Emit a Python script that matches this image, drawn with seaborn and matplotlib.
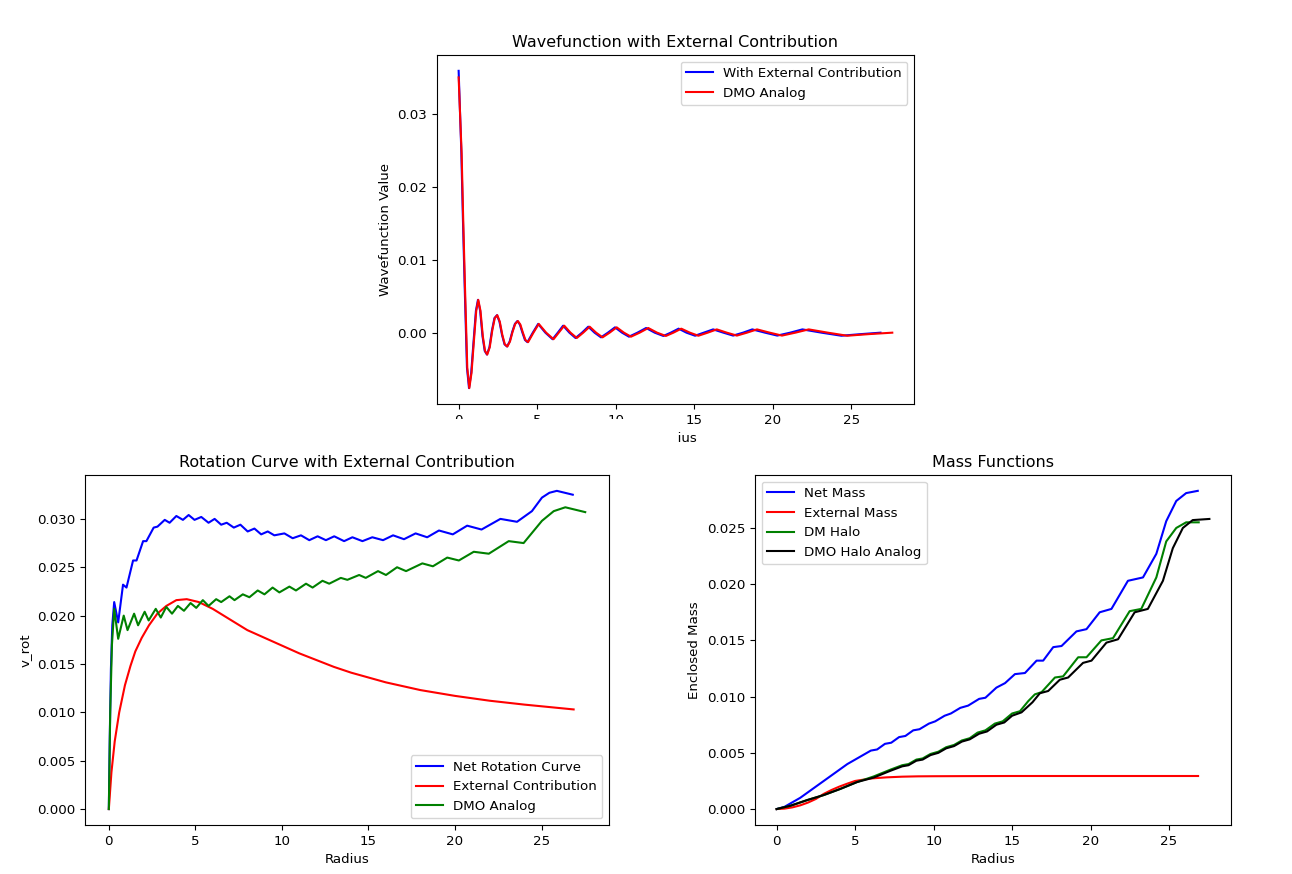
import numpy as np
import pandas as pd
import matplotlib
matplotlib.use('Agg')
import matplotlib.pyplot as plt
import seaborn as sns
from matplotlib.patches import Rectangle

plt.rcParams['font.family'] = ['DejaVu Sans']
plt.rcParams['font.size'] = 9.6

# wavefunction (top panel)
wave_r_ext = [0, 0.17, 0.27, 0.38, 0.53, 0.66, 0.80, 0.95, 1.10, 1.23, 1.37, 1.52, 1.66, 1.80, 1.96, 2.12,
              2.28, 2.44, 2.60, 2.76, 2.92, 3.08, 3.25, 3.41, 3.58, 3.74, 3.90, 4.06, 4.22, 4.38, 4.72, 5.06,
              5.52, 5.98, 6.31, 6.65, 7.05, 7.44, 7.85, 8.25, 8.65, 9.06, 9.50, 9.95, 10.40, 10.84, 11.38,
              11.93, 12.48, 13.03, 13.50, 14.00, 14.50, 15.05, 15.60, 16.20, 16.85, 17.47, 18.10, 18.69,
              19.50, 20.28, 21.10, 21.88, 23.10, 24.36, 25.60, 26.85]
wave_ext = [0.0359, 0.0249, 0.0158, 0.0067, -0.0048, -0.0076, -0.0055, -0.0012, 0.0030, 0.0045, 0.0030,
            -0.0005, -0.0025, -0.0030, -0.0020, 0.0003, 0.0020, 0.0024, 0.0015, -0.0003, -0.0016, -0.0019,
            -0.0012, 0.0001, 0.0012, 0.0016, 0.0011, 0.0, -0.0010, -0.0013, 0.0, 0.0012, 0.0, -0.0009, 0.0,
            0.00096, 0.0, -0.00073, 0.0, 0.00082, 0.0, -0.00064, 0.0, 0.00073, 0.0, -0.00055, 0.0, 0.00064,
            0.0, -0.00045, 0.0, 0.00055, 0.0, -0.00042, 0.0, 0.00045, 0.0, -0.00040, 0.0, 0.00045, 0.0,
            -0.00040, 0.0, 0.00045, 0.0, -0.00042, -0.0002, 0.0]
wave_r_dmo = [0, 0.19, 0.29, 0.40, 0.55, 0.68, 0.82, 0.97, 1.12, 1.25, 1.39, 1.54, 1.68, 1.82, 1.98, 2.14,
              2.30, 2.46, 2.62, 2.78, 2.94, 3.10, 3.27, 3.43, 3.60, 3.77, 3.93, 4.09, 4.25, 4.42, 4.76, 5.10,
              5.57, 6.04, 6.37, 6.72, 7.12, 7.52, 7.93, 8.34, 8.75, 9.16, 9.61, 10.06, 10.52, 10.97, 11.52,
              12.07, 12.63, 13.19, 13.67, 14.17, 14.72, 15.26, 15.85, 16.43, 17.07, 17.71, 18.35, 18.99,
              19.80, 20.58, 21.43, 22.28, 23.50, 24.73, 26.10, 27.60]
wave_dmo = [0.0350, 0.0246, 0.0156, 0.0066, -0.0048, -0.0076, -0.0055, -0.0012, 0.0030, 0.0045, 0.0030,
            -0.0005, -0.0025, -0.0030, -0.0020, 0.0003, 0.0020, 0.0024, 0.0015, -0.0003, -0.0016, -0.0019,
            -0.0012, 0.0001, 0.0012, 0.0016, 0.0011, 0.0, -0.0010, -0.0013, 0.0, 0.0012, 0.0, -0.0009, 0.0,
            0.00096, 0.0, -0.00073, 0.0, 0.00082, 0.0, -0.00064, 0.0, 0.00073, 0.0, -0.00055, 0.0, 0.00064,
            0.0, -0.00045, 0.0, 0.00055, 0.0, -0.00042, 0.0, 0.00045, 0.0, -0.00040, 0.0, 0.00045, 0.0,
            -0.00040, 0.0, 0.00045, 0.0, -0.00042, -0.0002, 0.0]

# rotation curves (bottom left)
rot_r_net = [0, 0.05, 0.12, 0.20, 0.31, 0.54, 0.82, 1.02, 1.40, 1.60, 1.98, 2.17, 2.59, 2.81, 3.23, 3.51,
             3.90, 4.28, 4.61, 4.95, 5.34, 5.76, 6.11, 6.49, 6.81, 7.22, 7.60, 8.02, 8.41, 8.80, 9.18, 9.56,
             10.14, 10.62, 11.10, 11.58, 12.06, 12.54, 13.02, 13.59, 14.07, 14.65, 15.22, 15.84, 16.42,
             17.05, 17.72, 18.39, 19.07, 19.87, 20.70, 21.53, 22.62, 23.58, 24.44, 25.02, 25.45, 25.88, 26.80]
v_net = [0, 0.0070, 0.0145, 0.0190, 0.0214, 0.0193, 0.0232, 0.0229, 0.0257, 0.0257, 0.0277, 0.0277, 0.0291,
         0.0292, 0.0299, 0.0296, 0.0303, 0.0299, 0.0304, 0.0299, 0.0302, 0.0296, 0.0300, 0.0294, 0.0296,
         0.0291, 0.0294, 0.0287, 0.0290, 0.0284, 0.0287, 0.0283, 0.0285, 0.0280, 0.0283, 0.0278, 0.0282,
         0.0278, 0.0282, 0.0277, 0.0281, 0.0277, 0.0281, 0.0278, 0.0283, 0.0279, 0.0285, 0.0281, 0.0288,
         0.0284, 0.0293, 0.0289, 0.0300, 0.0297, 0.0308, 0.0322, 0.0327, 0.0329, 0.0325]
rot_r_ext = [0, 0.15, 0.34, 0.60, 0.93, 1.25, 1.53, 1.90, 2.32, 2.80, 3.32, 3.90, 4.50, 5.20, 6.00, 7.09,
             8.0, 9.0, 10.0, 11.0, 12.0, 13.0, 14.0, 15.0, 16.0, 18.0, 20.0, 22.0, 24.0, 26.85]
v_ext = [0, 0.0038, 0.0070, 0.0100, 0.0128, 0.0148, 0.0163, 0.0177, 0.0190, 0.0202, 0.0210, 0.0216, 0.0217,
         0.0214, 0.0207, 0.0195, 0.0185, 0.0177, 0.0169, 0.0161, 0.0154, 0.0147, 0.0141, 0.0136, 0.0131,
         0.0123, 0.0117, 0.0112, 0.0108, 0.0103]
rot_r_dmo = [0, 0.08, 0.18, 0.31, 0.54, 0.86, 1.08, 1.46, 1.69, 2.07, 2.30, 2.71, 3.00, 3.32, 3.65, 3.99,
             4.34, 4.72, 5.05, 5.43, 5.76, 6.20, 6.49, 6.97, 7.26, 7.74, 8.12, 8.60, 8.99, 9.46, 9.85, 10.43,
             10.81, 11.39, 11.77, 12.34, 12.73, 13.40, 13.78, 14.46, 14.84, 15.55, 16.01, 16.65, 17.17,
             18.11, 18.72, 19.55, 20.22, 21.08, 21.95, 23.10, 23.96, 25.02, 25.70, 26.37, 27.52]
v_dmo = [0, 0.0100, 0.0170, 0.0207, 0.0176, 0.0200, 0.0185, 0.0202, 0.0190, 0.0204, 0.0195, 0.0207, 0.0198,
         0.0209, 0.0202, 0.0210, 0.0205, 0.0213, 0.0208, 0.0216, 0.0210, 0.0217, 0.0214, 0.0220, 0.0216,
         0.0222, 0.0219, 0.0226, 0.0222, 0.0229, 0.0224, 0.0230, 0.0226, 0.0233, 0.0229, 0.0236, 0.0233,
         0.0239, 0.0237, 0.0242, 0.0239, 0.0246, 0.0242, 0.0250, 0.0246, 0.0254, 0.0251, 0.0260, 0.0257,
         0.0266, 0.0264, 0.0277, 0.0275, 0.0298, 0.0308, 0.0312, 0.0307]

# enclosed masses (bottom right)
m_r_net = [0, 0.5, 1.0, 1.5, 2.0, 2.5, 3.0, 3.5, 4.0, 4.5, 5.0, 5.5, 6.0, 6.4, 6.9, 7.3, 7.8, 8.2, 8.7, 9.1,
           9.7, 10.1, 10.7, 11.1, 11.7, 12.2, 12.9, 13.3, 14.0, 14.55, 15.18, 15.82, 16.56, 16.98, 17.62,
           18.15, 19.10, 19.74, 20.58, 21.33, 22.38, 23.34, 24.19, 24.82, 25.46, 26.09, 26.83]
m_net = [0, 0.0002, 0.0006, 0.0010, 0.0015, 0.0020, 0.0025, 0.0030, 0.0035, 0.0040, 0.0044, 0.0048, 0.0052,
         0.0053, 0.0058, 0.0059, 0.0064, 0.0065, 0.0070, 0.0071, 0.0076, 0.0078, 0.0083, 0.0085, 0.0090,
         0.0092, 0.0098, 0.0099, 0.0108, 0.0112, 0.0120, 0.0121, 0.0132, 0.0132, 0.0144, 0.0145, 0.0158,
         0.0160, 0.0175, 0.0178, 0.0203, 0.0206, 0.0227, 0.0256, 0.0274, 0.0281, 0.0283]
m_r_ext = [0, 0.5, 1.0, 1.5, 2.0, 2.5, 3.0, 3.5, 4.0, 4.5, 5.0, 6.0, 7.0, 8.0, 9.0, 10.0, 12.0, 15.0, 20.0,
           26.85]
m_ext = [0, 0.00004, 0.00015, 0.00033, 0.00058, 0.00090, 0.00135, 0.00170, 0.00200, 0.00226, 0.00250,
         0.00272, 0.00282, 0.00288, 0.00291, 0.00292, 0.00293, 0.00294, 0.00294, 0.00294]
m_r_halo = [0, 0.89, 1.95, 3.01, 4.07, 5.12, 6.18, 7.24, 8.0, 8.4, 8.9, 9.3, 9.8, 10.3, 10.8, 11.3, 11.8,
            12.3, 12.8, 13.3, 13.9, 14.4, 15.0, 15.5, 16.03, 16.45, 16.88, 17.73, 18.25, 19.21, 19.74, 20.69,
            21.43, 22.49, 23.23, 24.19, 24.82, 25.46, 26.09, 26.89]
m_halo = [0, 0.0003, 0.0008, 0.00125, 0.0018, 0.0024, 0.0029, 0.0035, 0.0039, 0.0040, 0.0044, 0.0045,
          0.0049, 0.0051, 0.0055, 0.0057, 0.0061, 0.0063, 0.0068, 0.0070, 0.0076, 0.0078, 0.0085, 0.0087,
          0.0096, 0.0102, 0.0104, 0.0117, 0.0118, 0.0135, 0.0135, 0.0150, 0.0152, 0.0176, 0.0178, 0.0206,
          0.0238, 0.0250, 0.0255, 0.0255]
m_r_dmo = [0, 0.89, 1.95, 3.01, 4.07, 5.12, 6.18, 7.24, 8.0, 8.4, 8.9, 9.3, 9.8, 10.3, 10.8, 11.3, 11.8,
           12.3, 12.9, 13.4, 14.0, 14.5, 15.0, 15.6, 16.3, 16.77, 17.30, 18.04, 18.57, 19.52, 20.06, 21.01,
           21.75, 22.81, 23.65, 24.61, 25.24, 25.88, 26.51, 27.57]
m_dmo = [0, 0.0003, 0.0008, 0.00125, 0.0018, 0.0024, 0.0028, 0.0034, 0.0038, 0.0039, 0.0043, 0.0044,
         0.0048, 0.0050, 0.0054, 0.0056, 0.0060, 0.0062, 0.0067, 0.0069, 0.0075, 0.0077, 0.0083, 0.0086,
         0.0095, 0.0103, 0.0105, 0.0115, 0.0117, 0.0130, 0.0132, 0.0148, 0.0151, 0.0175, 0.0178, 0.0203,
         0.0232, 0.0250, 0.0257, 0.0258]

fig = plt.figure(figsize=(12.92, 8.74), dpi=100)
ax1 = fig.add_axes([0.3382, 0.5378, 0.3692, 0.3993])
ax2 = fig.add_axes([0.0658, 0.0561, 0.4056, 0.4005])
ax3 = fig.add_axes([0.5844, 0.0561, 0.3684, 0.4005])


def line(ax, x, y, c, lab):
    sns.lineplot(x=x, y=y, color=c, label=lab, ax=ax, estimator=None, sort=False, linewidth=1.5)


line(ax1, wave_r_ext, wave_ext, 'b', 'With External Contribution')
line(ax1, wave_r_dmo, wave_dmo, 'r', 'DMO Analog')
ax1.set_title('Wavefunction with External Contribution', fontsize=11.5)
ax1.set_xlabel('Radius')
ax1.set_ylabel('Wavefunction Value')
ax1.legend(loc='upper right')

line(ax2, rot_r_net, v_net, 'b', 'Net Rotation Curve')
line(ax2, rot_r_ext, v_ext, 'r', 'External Contribution')
line(ax2, rot_r_dmo, v_dmo, 'g', 'DMO Analog')
ax2.set_title('Rotation Curve with External Contribution', fontsize=11.5)
ax2.set_xlabel('Radius')
ax2.set_ylabel('v_rot')
ax2.legend(loc='lower right')

line(ax3, m_r_net, m_net, 'b', 'Net Mass')
line(ax3, m_r_ext, m_ext, 'r', 'External Mass')
line(ax3, m_r_halo, m_halo, 'g', 'DM Halo')
line(ax3, m_r_dmo, m_dmo, 'k', 'DMO Halo Analog')
ax3.set_title('Mass Functions', fontsize=11.5)
ax3.set_xlabel('Radius')
ax3.set_ylabel('Enclosed Mass')
ax3.legend(loc='upper left')

for ax in (ax1, ax2, ax3):
    ax.set_xticks([0, 5, 10, 15, 20, 25])

# the lower row covers part of the upper panel's axis labels in the original
fig.add_artist(Rectangle((0, 0.4851), 0.5242, 0.0360, transform=fig.transFigure,
                         facecolor='white', edgecolor='none', zorder=5))

fig.savefig('out.png', dpi=100)
